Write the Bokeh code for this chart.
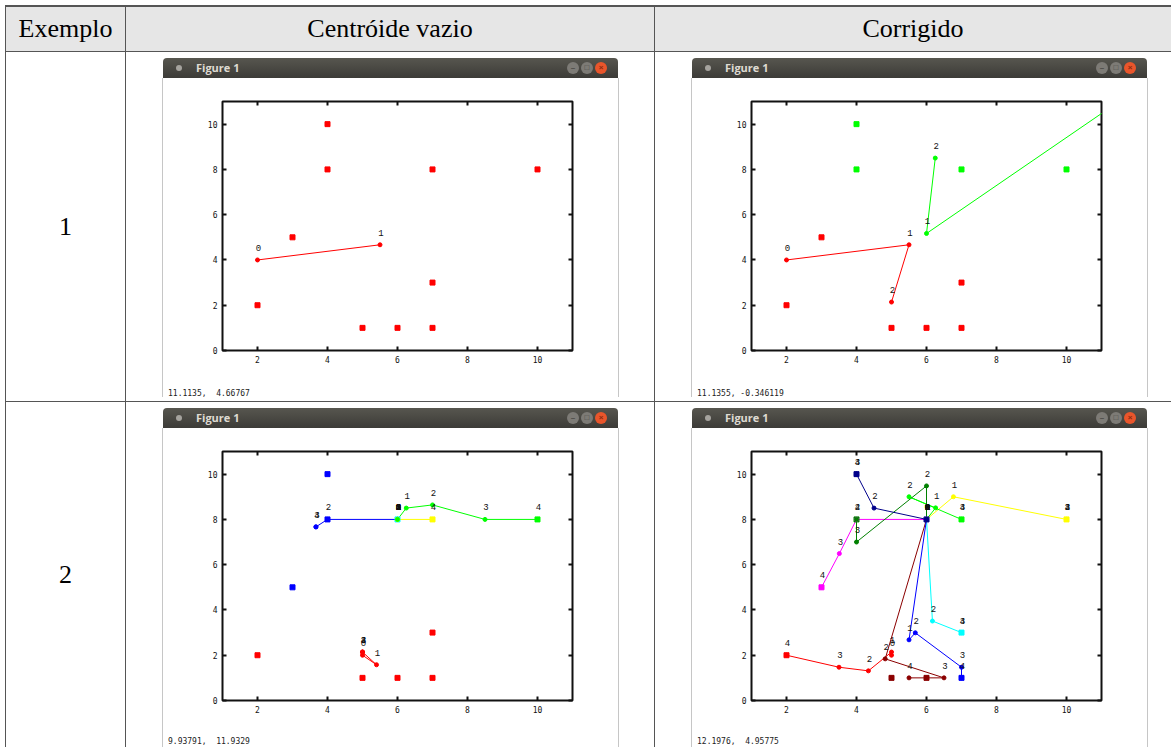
from bokeh.plotting import figure
from bokeh.layouts import row, column
from bokeh.models import Div, Spacer, LinearAxis, FixedTicker
from bokeh.embed import file_html
from bokeh.resources import INLINE
from bokeh.core.properties import value

# ---------------- table texts ----------------
col_headers = ["Exemplo", "Centróide vazio", "Corrigido"]
row_labels = ["1", "2"]
status_texts = ["11.1135,  4.66767", "11.1355, -0.346119", "9.93791,  11.9329", "12.1976,  4.95775"]

x_ticks = [2, 4, 6, 8, 10]
y_ticks = [0, 2, 4, 6, 8, 10]

RED, LIME, BLUE, YEL = "#ff0000", "#00ff00", "#0000ff", "#ffff00"
CYAN, MAG, MAROON, NAVY, DGREEN = "#00ffff", "#ff00ff", "#8b0000", "#00008b", "#008000"

# ---------------- example 1 ----------------
ex1_x = [2, 3, 4, 4, 5, 6, 7, 7, 7, 10]
ex1_y = [2, 5, 10, 8, 1, 1, 1, 3, 8, 8]
ex1_empty_colors = [RED] * 10
ex1_fixed_colors = [RED, RED, LIME, LIME, RED, RED, RED, RED, LIME, LIME]

ex1_empty_red_x = [2, 5.5]
ex1_empty_red_y = [4, 4.67]

ex1_fixed_red_x = [2, 5.5, 5]
ex1_fixed_red_y = [4, 4.67, 2.14]
ex1_fixed_green_x = [16, 6, 6.25]
ex1_fixed_green_y = [15.77, 5.17, 8.5]

# ---------------- example 2 ----------------
ex2_x = [2, 3, 4, 4, 5, 6, 7, 7, 7, 10, 6]
ex2_y = [2, 5, 10, 8, 1, 1, 1, 3, 8, 8, 8]
ex2_empty_colors = [RED, BLUE, BLUE, BLUE, RED, RED, RED, RED, YEL, LIME, CYAN]
ex2_fixed_colors = [RED, MAG, NAVY, DGREEN, MAROON, MAROON, BLUE, CYAN, LIME, YEL, NAVY]

# centroid trajectories (iterations 0..4), empty-centroid version
ex2_empty_red_x = [5, 5.4, 5, 5, 5]
ex2_empty_red_y = [2.0, 1.58, 2.14, 2.14, 2.14]
ex2_empty_blue_x = [6, 6, 4, 3.67, 3.67]
ex2_empty_blue_y = [8, 8, 8, 7.67, 7.67]
ex2_empty_cyan_x = [6, 6, 6, 6, 6]
ex2_empty_cyan_y = [8, 8, 8, 8, 8]
ex2_empty_yellow_x = [6, 6, 6, 6, 7]
ex2_empty_yellow_y = [8, 8, 8, 8, 8]
ex2_empty_green_x = [6, 6.25, 7, 8.5, 10]
ex2_empty_green_y = [8, 8.5, 8.64, 8, 8]

# corrected version
ex2_fixed_red_x = [5, 5, 4.34, 3.5, 2]
ex2_fixed_red_y = [2.0, 2.14, 1.31, 1.47, 2]
ex2_fixed_maroon_x = [6, 6, 4.82, 6.5, 5.5]
ex2_fixed_maroon_y = [8, 8, 1.84, 1, 1]
ex2_fixed_blue_x = [6, 5.5, 5.68, 7, 7]
ex2_fixed_blue_y = [8, 2.68, 2.99, 1.47, 1.0]
ex2_fixed_cyan_x = [6, 6, 6.17, 7, 7]
ex2_fixed_cyan_y = [8, 8, 3.51, 3, 3]
ex2_fixed_navy_x = [6, 6, 4.5, 4, 4]
ex2_fixed_navy_y = [8, 8, 8.5, 10, 10]
ex2_fixed_dgreen_x = [6, 6, 6, 4, 4]
ex2_fixed_dgreen_y = [8, 8, 9.48, 7, 8]
ex2_fixed_lime_x = [6, 6.26, 5.5, 7, 7]
ex2_fixed_lime_y = [8, 8.51, 9.0, 8, 8]
ex2_fixed_yellow_x = [6, 6.77, 10, 10, 10]
ex2_fixed_yellow_y = [8, 9.0, 8, 8, 8]
ex2_fixed_magenta_x = [6, 6, 4, 3.51, 3]
ex2_fixed_magenta_y = [8, 8, 8, 6.49, 5]

MONO = "DejaVu Sans Mono"
LABEL_FONT = "Liberation Mono"
LINE_C = "#555555"
WIN_EDGE = "#c6c6c6"


def make_plot(px, py, pc, paths, height, bottom):
    p = figure(width=455, height=height, x_range=(1, 11), y_range=(0, 11),
               output_backend="svg", toolbar_location=None,
               min_border_left=59, min_border_right=46, min_border_top=23,
               min_border_bottom=bottom)
    p.xgrid.visible = False
    p.ygrid.visible = False
    p.outline_line_color = "#111111"
    p.outline_line_width = 2
    p.background_fill_color = "white"
    p.border_fill_color = "white"
    p.add_layout(LinearAxis(), "above")
    p.add_layout(LinearAxis(), "right")
    for ax in p.xaxis:
        ax.ticker = FixedTicker(ticks=x_ticks)
    for ax in p.yaxis:
        ax.ticker = FixedTicker(ticks=y_ticks)
    for ax in list(p.xaxis) + list(p.yaxis):
        ax.axis_line_color = None
        ax.major_tick_in = 4
        ax.major_tick_out = 0
        ax.major_tick_line_color = "#111111"
        ax.major_tick_line_width = 2
        ax.minor_tick_line_color = None
        ax.major_label_text_font = MONO
        ax.major_label_text_font_size = "8px"
        ax.major_label_text_color = "#111111"
        ax.major_label_standoff = 5
    p.above[0].major_label_text_color = None
    p.right[0].major_label_text_color = None

    for color, xs, ys in paths:
        p.line(xs, ys, line_color=color, line_width=1)
    p.scatter(px, py, marker="square", size=5, fill_color=pc, line_color=pc)
    for color, xs, ys in paths:
        p.scatter(xs, ys, marker="circle", size=4, fill_color=color, line_color=color)
    for color, xs, ys in paths:
        p.text(xs, ys, text=[str(i) for i in range(len(xs))], x_offset=1, y_offset=-12,
               text_align="center", text_baseline="middle",
               text_font=value(LABEL_FONT), text_font_size="9px", text_color="#111111")
    return p


def titlebar():
    btn = ('position:absolute;top:4px;width:12px;height:12px;border-radius:50%;'
           'font:bold 8px sans-serif;line-height:12px;text-align:center;')
    html = ('<div style="position:relative;width:455px;height:20px;overflow:hidden;'
            'background:linear-gradient(#57564f,#3c3b37);border-radius:4px 4px 0 0;">'
            '<div style="position:absolute;left:13px;top:7px;width:6px;height:6px;border-radius:50%;background:#a5a39e;"></div>'
            '<div style="position:absolute;left:33px;top:2px;font:bold 11px \'Open Sans\',sans-serif;color:#dfdbd2;">Figure 1</div>'
            f'<div style="{btn}left:404px;background:#7d7b76;color:#4a4945;">&#8211;</div>'
            f'<div style="{btn}left:418px;background:#7d7b76;color:#4a4945;">&#9633;</div>'
            f'<div style="{btn}left:432px;background:#e9552b;color:#8a2a10;">&#215;</div>'
            '</div>')
    return Div(text=html, width=455, height=20, margin=0)


def status(txt, border, h):
    bb = f"border-bottom:1px solid {WIN_EDGE};" if border else ""
    html = (f'<div style="width:455px;height:{h}px;{bb}'
            f'font:8px \'{MONO}\',monospace;color:#222;white-space:pre;padding-left:5px;'
            f'box-sizing:border-box;line-height:10px;">{txt}</div>')
    return Div(text=html, width=455, height=h, margin=0)


def edge(h):
    return column(Spacer(height=26, margin=0),
                  Div(text="", width=1, height=h, margin=0,
                      styles={"background-color": WIN_EDGE}), spacing=0)


def window_cell(plot, txt, w, h, border, body_h, status_h):
    win = column(Spacer(height=6, margin=0), titlebar(), plot,
                 status(txt, border, status_h), spacing=0)
    return row(Spacer(width=36, margin=0), edge(body_h), win, edge(body_h),
               width=w, height=h, spacing=0,
               styles={"background-color": "white", "overflow": "hidden"})


def text_cell(txt, w, h, bg):
    html = (f'<div style="width:{w}px;height:{h}px;background:{bg};display:flex;'
            f'align-items:center;justify-content:center;font-family:\'Liberation Serif\',serif;'
            f'font-size:26px;color:#000;">{txt}</div>')
    return Div(text=html, width=w, height=h, margin=0, styles={"background-color": bg})


W1, W2, W3 = 119, 528, 516
H0, H1, H2 = 44, 349, 345
HEAD_BG = "#e6e6e6"

pA = make_plot(ex1_x, ex1_y, ex1_empty_colors,
               [(RED, ex1_empty_red_x, ex1_empty_red_y)], 306, 34)
pB = make_plot(ex1_x, ex1_y, ex1_fixed_colors,
               [(RED, ex1_fixed_red_x, ex1_fixed_red_y),
                (LIME, ex1_fixed_green_x, ex1_fixed_green_y)], 306, 34)
pC = make_plot(ex2_x, ex2_y, ex2_empty_colors,
               [(RED, ex2_empty_red_x, ex2_empty_red_y),
                (BLUE, ex2_empty_blue_x, ex2_empty_blue_y),
                (CYAN, ex2_empty_cyan_x, ex2_empty_cyan_y),
                (YEL, ex2_empty_yellow_x, ex2_empty_yellow_y),
                (LIME, ex2_empty_green_x, ex2_empty_green_y)], 304, 32)
pD = make_plot(ex2_x, ex2_y, ex2_fixed_colors,
               [(MAG, ex2_fixed_magenta_x, ex2_fixed_magenta_y),
                (YEL, ex2_fixed_yellow_x, ex2_fixed_yellow_y),
                (LIME, ex2_fixed_lime_x, ex2_fixed_lime_y),
                (CYAN, ex2_fixed_cyan_x, ex2_fixed_cyan_y),
                (RED, ex2_fixed_red_x, ex2_fixed_red_y),
                (MAROON, ex2_fixed_maroon_x, ex2_fixed_maroon_y),
                (BLUE, ex2_fixed_blue_x, ex2_fixed_blue_y),
                (DGREEN, ex2_fixed_dgreen_x, ex2_fixed_dgreen_y),
                (NAVY, ex2_fixed_navy_x, ex2_fixed_navy_y)], 304, 32)

header = row(Spacer(width=0, margin=0),
             text_cell(col_headers[0], W1, H0, HEAD_BG),
             text_cell(col_headers[1], W2, H0, HEAD_BG),
             text_cell(col_headers[2], W3, H0, HEAD_BG), spacing=1)
r1 = row(Spacer(width=0, margin=0),
         text_cell(row_labels[0], W1, H1, "white"),
         window_cell(pA, status_texts[0], W2, H1, True, 319, 13),
         window_cell(pB, status_texts[1], W3, H1, True, 319, 13), spacing=1)
r2 = row(Spacer(width=0, margin=0),
         text_cell(row_labels[1], W1, H2, "white"),
         window_cell(pC, status_texts[2], W2, H2, False, 319, 15),
         window_cell(pD, status_texts[3], W3, H2, False, 319, 15), spacing=1)

root = column(Spacer(height=1, margin=0), header, r1, r2, spacing=1,
              styles={"background-color": LINE_C, "margin": "5px 0 0 5px"})

open("out.html", "w").write(file_html(root, INLINE))
